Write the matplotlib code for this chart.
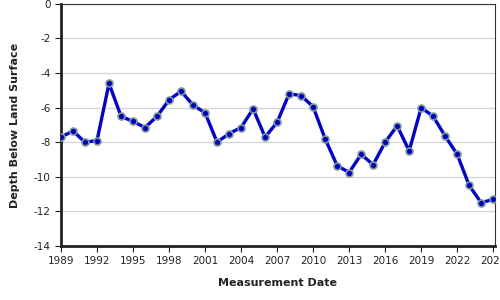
import matplotlib.pyplot as plt

plt.rcParams['axes.unicode_minus'] = False

years = list(range(1989, 2026))
depth = [-7.7, -7.35, -8.0, -7.9, -4.6, -6.5, -6.8, -7.15, -6.5, -5.55,
         -5.05, -5.85, -6.3, -8.0, -7.5, -7.15, -6.07, -7.7, -6.85, -5.2,
         -5.3, -5.95, -7.8, -9.35, -9.75, -8.7, -9.3, -8.0, -7.05, -8.5,
         -6.0, -6.5, -7.65, -8.7, -10.5, -11.5, -11.3]
xticks = list(range(1989, 2026, 3))
yticks = list(range(-14, 1, 2))

fig = plt.figure(figsize=(5, 3), dpi=100)
ax = fig.add_axes([0.122, 0.18, 0.868, 0.807])

ax.plot(years, depth, color='#0000dd', linewidth=2.4, marker='o', markersize=5,
        markerfacecolor='#0000cc', markeredgecolor='#7f9a8f', markeredgewidth=1.2,
        zorder=3)

ax.set_xlim(1989, 2025.15)
ax.set_ylim(-14, 0)
ax.set_xticks(xticks)
ax.set_yticks(yticks)
ax.tick_params(labelsize=7.5, colors='#222222', length=4)
ax.grid(axis='y', color='#d5d5d5', linewidth=0.9)
ax.set_axisbelow(True)

for s in ['left', 'bottom']:
    ax.spines[s].set_linewidth(2)
    ax.spines[s].set_color('#222222')
for s in ['top', 'right']:
    ax.spines[s].set_linewidth(0.8)
    ax.spines[s].set_color('#333333')

ax.set_xlabel('Measurement Date', fontsize=8, fontweight='bold', color='#222222', labelpad=8)
ax.set_ylabel('Depth Below Land Surface', fontsize=8, fontweight='bold', color='#222222', labelpad=10)

fig.savefig('out.png', dpi=100)
